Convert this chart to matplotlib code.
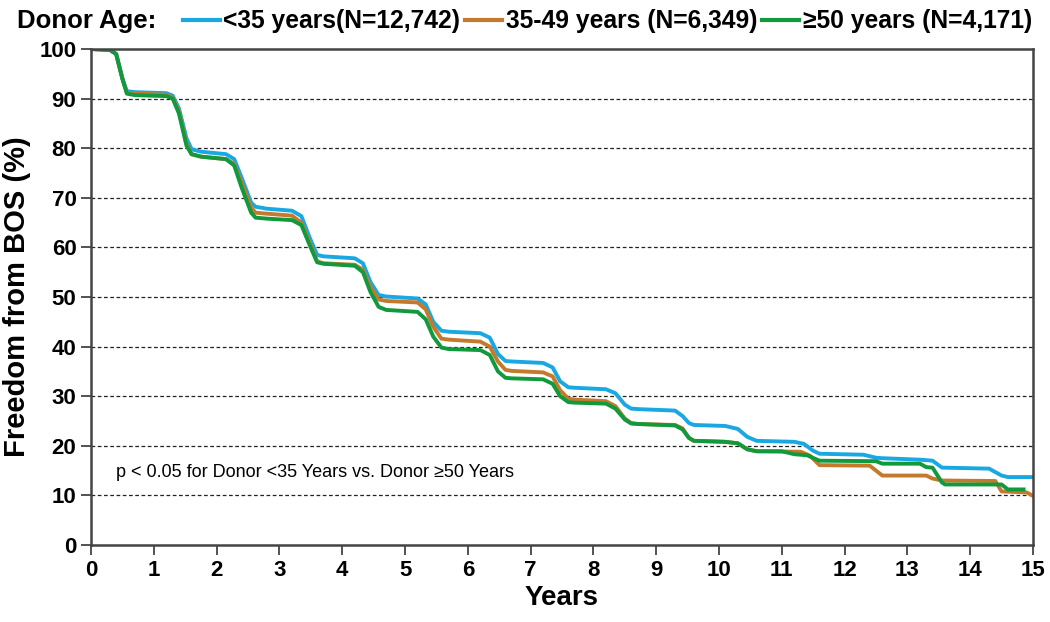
import numpy as np
import matplotlib.pyplot as plt

# Kaplan-Meier style curves (years, % freedom from BOS)
t_lt35 = [0, 0.3, 0.4, 0.5, 0.57, 0.7, 1.2, 1.3, 1.4, 1.52, 1.6, 1.75, 2.15, 2.28, 2.4, 2.55, 2.62, 2.8,
          3.2, 3.35, 3.48, 3.6, 3.7, 4.2, 4.33, 4.45, 4.58, 4.7, 5.2, 5.33, 5.45, 5.58, 5.7, 6.2, 6.35,
          6.48, 6.6, 6.7, 7.2, 7.35, 7.47, 7.6, 7.7, 8.2, 8.35, 8.5, 8.6, 8.7, 9.3, 9.42, 9.52, 9.6,
          10.1, 10.3, 10.45, 10.6, 11.2, 11.35, 11.5, 11.6, 12.3, 12.5, 12.6, 13.2, 13.4, 13.55, 14.3,
          14.5, 14.6, 15.0]
v_lt35 = [100, 99.8, 99, 94, 91.5, 91.3, 91.1, 90.6, 88, 82, 79.8, 79.3, 78.8, 77.8, 74, 69, 68.2, 67.8,
          67.4, 66.3, 62, 58.5, 58.2, 57.8, 56.8, 53, 50.4, 50.1, 49.7, 48.5, 45, 43.2, 43, 42.7, 41.8,
          38.5, 37.1, 37, 36.7, 35.8, 33, 31.8, 31.7, 31.4, 30.6, 28.3, 27.5, 27.4, 27.1, 26, 24.6, 24.2,
          24, 23.4, 21.8, 21, 20.8, 20.4, 19, 18.4, 18.2, 17.6, 17.5, 17.2, 17.0, 15.6, 15.4,
          14, 13.7, 13.7]

t_35_49 = [0, 0.3, 0.4, 0.5, 0.57, 0.7, 1.2, 1.3, 1.4, 1.52, 1.6, 1.75, 2.15, 2.28, 2.4, 2.55, 2.62, 2.8,
           3.2, 3.35, 3.48, 3.6, 3.7, 4.2, 4.33, 4.45, 4.58, 4.7, 5.2, 5.33, 5.45, 5.58, 5.7, 6.2, 6.35,
           6.48, 6.6, 6.7, 7.2, 7.35, 7.47, 7.6, 7.7, 8.2, 8.35, 8.5, 8.6, 8.7, 9.3, 9.42, 9.52, 9.6,
           10.1, 10.3, 10.45, 10.6, 11.3, 11.45, 11.6, 12.4, 12.6, 13.3, 13.4, 13.55, 14.4, 14.5, 14.9,
           15.0]
v_35_49 = [100, 99.9, 99, 94, 91.2, 91, 90.8, 90.2, 87.5, 81, 78.8, 78.3, 77.8, 76.8, 73, 68, 67, 66.8,
           66.4, 65, 61, 57.2, 56.8, 56.5, 55.5, 52, 49.5, 49.2, 48.9, 47.5, 44, 41.6, 41.4, 41, 40,
           37, 35.3, 35.1, 34.8, 34, 31.2, 29.5, 29.3, 29, 28, 25.5, 24.6, 24.4, 24.2, 23.5, 21.6, 21,
           20.8, 20.5, 19.3, 18.9, 18.8, 18.0, 16.1, 16, 14.0, 14, 13.4, 13.0, 12.9, 10.8, 10.6,
           9.9]

t_ge50 = [0, 0.3, 0.4, 0.5, 0.57, 0.7, 1.2, 1.3, 1.4, 1.52, 1.6, 1.75, 2.15, 2.28, 2.4, 2.55, 2.62, 2.8,
          3.2, 3.35, 3.48, 3.6, 3.7, 4.2, 4.33, 4.45, 4.58, 4.7, 5.2, 5.33, 5.45, 5.58, 5.7, 6.2, 6.35,
          6.48, 6.6, 6.7, 7.2, 7.35, 7.47, 7.6, 7.7, 8.2, 8.35, 8.5, 8.6, 8.7, 9.3, 9.42, 9.52, 9.6,
          10.1, 10.3, 10.45, 10.6, 11.0, 11.2, 11.4, 11.6, 12.5, 12.6, 13.2, 13.3, 13.4, 13.55, 13.6,
          14.5, 14.6, 14.85]
v_ge50 = [100, 99.8, 99, 94, 91, 90.7, 90.5, 90, 87, 80.5, 78.8, 78.3, 77.8, 76.5, 72, 67, 66, 65.8,
          65.5, 64.5, 60.5, 57.0, 56.7, 56.3, 55, 51, 48, 47.4, 47, 45.5, 42, 39.8, 39.5, 39.3, 38.3,
          35, 33.7, 33.6, 33.4, 32.5, 30, 28.8, 28.7, 28.5, 27.5, 25.3, 24.5, 24.4, 24.1, 23.3, 21.6, 21,
          20.8, 20.5, 19.3, 18.9, 18.9, 18.3, 18.1, 17.0, 16.9, 16.4, 16.4, 15.7, 15.6, 12.6, 12.2,
          12.2, 11.2, 11.2]

labels = ['<35 years(N=12,742)', '35-49 years (N=6,349)', '\u226550 years (N=4,171)']
colors = ['#1aa8e2', '#c47a2c', '#11993d']

font = ['Liberation Sans', 'DejaVu Sans']
plt.rcParams['font.family'] = font

fig = plt.figure(figsize=(10.5, 6.22), dpi=100)
ax = fig.add_axes([0.0867, 0.1238, 0.8971, 0.7974])

for t, v, c in zip([t_lt35, t_35_49, t_ge50], [v_lt35, v_35_49, v_ge50], colors):
    ax.plot(t, v, color=c, lw=2.8, solid_joinstyle='round')
handles = [plt.Line2D([], [], color=c, lw=3) for c in colors]

ax.set_xlim(0, 15)
ax.set_ylim(0, 100)
ax.set_xticks(np.arange(0, 16, 1))
ax.set_yticks(np.arange(0, 101, 10))
for y in range(10, 100, 10):
    ax.axhline(y, color='#222222', lw=0.9, ls=(0, (3, 2)), zorder=0)

for s in ax.spines.values():
    s.set_color('#444444')
    s.set_linewidth(1.8)
ax.tick_params(axis='both', direction='out', length=7, width=1.3, color='#444444')
for lab in ax.get_xticklabels() + ax.get_yticklabels():
    lab.set_fontweight('bold')
    lab.set_fontsize(16)

ax.set_xlabel('Years', fontsize=20, fontweight='bold', labelpad=3)
ax.set_ylabel('Freedom from BOS (%)', fontsize=21, fontweight='bold', labelpad=6)

ax.text(0.4, 14.7, 'p < 0.05 for Donor <35 Years vs. Donor \u226550 Years', fontsize=13,
        va='center')

fig.text(0.016, 0.966, 'Donor Age:', fontsize=18.5, fontweight='bold', va='center')
fig.legend(handles, labels, loc='center left', bbox_to_anchor=(0.174, 0.966), ncol=3,
           frameon=False, handlelength=1.5, handletextpad=0.15, columnspacing=0.2,
           borderaxespad=0, borderpad=0,
           prop={'weight': 'bold', 'size': 17.7})

fig.savefig('out.png', dpi=100)
